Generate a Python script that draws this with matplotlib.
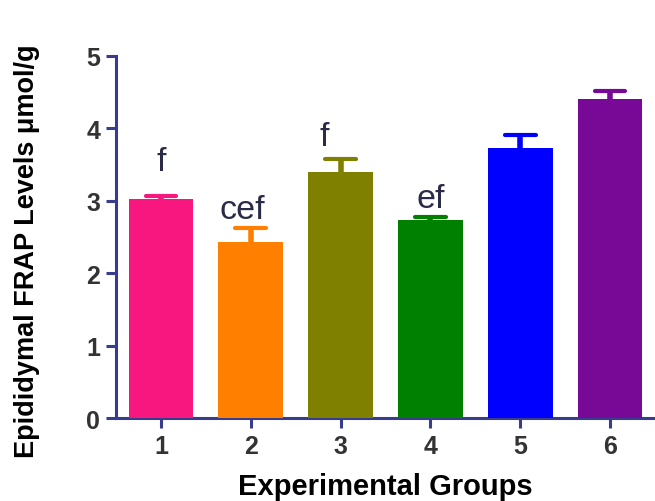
import matplotlib
matplotlib.use("Agg")
import matplotlib.pyplot as plt
import numpy as np

plt.rcParams['font.family'] = ['Liberation Sans', 'DejaVu Sans']

groups = ["1", "2", "3", "4", "5", "6"]
means = [3.02, 2.43, 3.39, 2.73, 3.72, 4.40]
sems = [0.05, 0.19, 0.18, 0.04, 0.19, 0.12]
colors = ["#F8167F", "#FF8000", "#808000", "#008000", "#0000FF", "#780896"]
letters = ["f", "cef", "f", "ef", "", ""]
letter_y = [3.42, 2.76, 3.77, 2.91, 0, 0]
letter_dx = [0.0, -0.09, -0.18, 0.0, 0.0, 0.0]

axis_col = "#383C8C"
txt_col = "#2B2B48"

fig = plt.figure(figsize=(6.55, 5.02), dpi=100)
ax = fig.add_axes([0.1771, 0.1653, 0.8229, 0.7217])

x = np.arange(1, len(groups) + 1)
means_a = np.array(means)
sems_a = np.array(sems)
cap_half = 0.17
for xi, m, s, c in zip(x, means_a, sems_a, colors):
    ax.vlines(xi, m, m + s, colors=c, linewidth=4, zorder=2, capstyle='butt')
    ax.hlines(m + s, xi - cap_half, xi + cap_half, colors=c, linewidth=3,
              zorder=2, capstyle='round')
ax.bar(x, means_a, width=0.72, color=colors, edgecolor='none', zorder=3)

for xi, lab, ly, dx in zip(x, letters, letter_y, letter_dx):
    if lab:
        ax.text(xi + dx, ly, lab, ha='center', va='baseline', fontsize=24.5,
                color=txt_col, zorder=4)

ax.set_xlim(0.5, 6.5)
ax.set_ylim(0, 5)
ax.set_xticks(x)
ax.set_xticklabels(groups)
ax.set_yticks([0, 1, 2, 3, 4, 5])

for side in ['top', 'right']:
    ax.spines[side].set_visible(False)
for side in ['left', 'bottom']:
    ax.spines[side].set_color(axis_col)
    ax.spines[side].set_linewidth(2.2)

ax.tick_params(axis='both', colors=axis_col, width=2.2, length=7.5,
               labelcolor='#333333', labelsize=18, pad=4)
for lbl in ax.get_xticklabels() + ax.get_yticklabels():
    lbl.set_fontweight('bold')

ax.set_xlabel("Experimental Groups", fontsize=21, fontweight='bold', color='black', labelpad=10)
ax.set_ylabel("Epididymal FRAP Levels \u03bcmol/g", fontsize=19.5, fontweight='bold', color='black')
ax.yaxis.set_label_coords(-0.141, 0.463)

fig.savefig("out.png", dpi=100)
